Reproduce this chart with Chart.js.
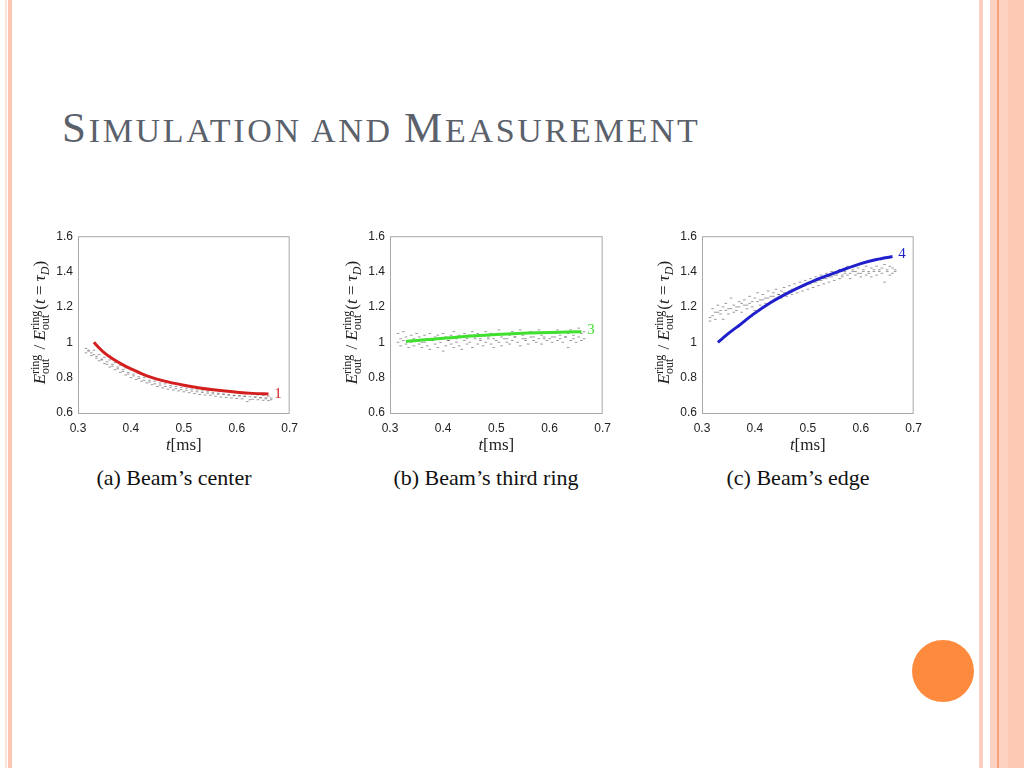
<!DOCTYPE html>
<html>
<head>
<meta charset="utf-8">
<script src="https://cdn.jsdelivr.net/npm/chart.js@4.4.1/dist/chart.umd.min.js"></script>
<style>
  html, body { margin: 0; padding: 0; background: #fff; }
  #slide { position: relative; width: 1024px; height: 768px; overflow: hidden; background: #fff; }
  .bar { position: absolute; top: 0; height: 768px; }
  #title { position: absolute; left: 62px; top: 104px; font-family: "Liberation Serif", serif;
           color: #5b616b; white-space: nowrap; line-height: 48px; letter-spacing: 2.7px; }
  #title .b { font-size: 43px; }
  #title .s { font-size: 34px; }
  .cap { position: absolute; top: 465px; width: 300px; text-align: center; font-family: "Liberation Serif", serif;
         font-size: 22px; color: #111; white-space: nowrap; }
  .box { position: absolute; top: 224px; height: 235px; }
  #dot { position: absolute; left: 912px; top: 640px; width: 62px; height: 62px; border-radius: 50%; background: #fe8a3e; }
</style>
</head>
<body>
<div id="slide">
  <div class="bar" style="left:5px;width:2px;background:#fbe3da"></div>
  <div class="bar" style="left:8px;width:4px;background:#fcc6b3"></div>
  <div class="bar" style="left:979px;width:4px;background:#fccfbe"></div>
  <div class="bar" style="left:990px;width:34px;background:#fdd2c1"></div>
  <div class="bar" style="left:997px;width:2px;background:#f8a27c"></div>
  <div class="bar" style="left:1008px;width:16px;background:#fdc9b4"></div>

  <div id="title"><span class="b">S</span><span class="s">IMULATION AND </span><span class="b">M</span><span class="s">EASUREMENT</span></div>

  <div class="box" style="left:30px;width:276px"><canvas id="chartA"></canvas></div>
  <div class="box" style="left:342px;width:277px"><canvas id="chartB"></canvas></div>
  <div class="box" style="left:654px;width:276px"><canvas id="chartC"></canvas></div>

  <div class="cap" style="left:24px">(a) Beam’s center</div>
  <div class="cap" style="left:336px">(b) Beam’s third ring</div>
  <div class="cap" style="left:648px">(c) Beam’s edge</div>

  <div id="dot"></div>
</div>

<script>
// eixos
const xTicks = [0.3, 0.4, 0.5, 0.6, 0.7];
const yTicks = [0.6, 0.8, 1, 1.2, 1.4, 1.6];

// tempos das medições (ms)
const measT = [
  0.315, 0.32, 0.325, 0.33, 0.335, 0.34, 0.345, 0.35, 0.355, 0.36,
  0.365, 0.37, 0.375, 0.38, 0.385, 0.39, 0.395, 0.40, 0.405, 0.41,
  0.415, 0.42, 0.425, 0.43, 0.435, 0.44, 0.445, 0.45, 0.455, 0.46,
  0.465, 0.47, 0.475, 0.48, 0.485, 0.49, 0.495, 0.50, 0.505, 0.51,
  0.515, 0.52, 0.525, 0.53, 0.535, 0.54, 0.545, 0.55, 0.555, 0.56,
  0.565, 0.57, 0.575, 0.58, 0.585, 0.59, 0.595, 0.60, 0.605, 0.61,
  0.615, 0.62, 0.625, 0.63, 0.635, 0.64, 0.645, 0.65, 0.655, 0.66,
  0.665
];

// (a) centro do feixe - medições
const centerMeas1 = [
  0.965, 0.95, 0.94, 0.955, 0.92, 0.93, 0.905, 0.915, 0.89, 0.90,
  0.875, 0.885, 0.86, 0.87, 0.845, 0.855, 0.83, 0.845, 0.82, 0.835,
  0.805, 0.82, 0.80, 0.81, 0.785, 0.80, 0.78, 0.79, 0.77, 0.785,
  0.765, 0.775, 0.755, 0.77, 0.75, 0.765, 0.745, 0.755, 0.74, 0.752,
  0.735, 0.748, 0.73, 0.742, 0.725, 0.738, 0.72, 0.735, 0.715, 0.73,
  0.712, 0.725, 0.708, 0.722, 0.705, 0.72, 0.70, 0.718, 0.698, 0.715,
  0.695, 0.71, 0.675, 0.705, 0.69, 0.702, 0.685, 0.70, 0.68, 0.695,
  0.675
];
const centerMeas2 = [
  0.94, 0.955, 0.925, 0.93, 0.91, 0.895, 0.90, 0.88, 0.875, 0.86,
  0.865, 0.845, 0.85, 0.83, 0.835, 0.815, 0.82, 0.80, 0.81, 0.79,
  0.795, 0.78, 0.785, 0.77, 0.775, 0.76, 0.765, 0.75, 0.758, 0.742,
  0.75, 0.735, 0.745, 0.73, 0.738, 0.725, 0.732, 0.72, 0.728, 0.715,
  0.724, 0.71, 0.72, 0.705, 0.716, 0.702, 0.712, 0.70, 0.708, 0.695,
  0.706, 0.69, 0.704, 0.688, 0.70, 0.685, 0.698, 0.682, 0.696, 0.68,
  0.694, 0.665, 0.692, 0.678, 0.69, 0.675, 0.688, 0.672, 0.686, 0.67,
  0.684
];

// (b) terceiro anel - medições
const ringMeas1 = [
  1.05, 1.02, 1.06, 1.03, 1.01, 1.04, 1.02, 1.05, 1.03, 1.00,
  1.04, 1.02, 1.05, 1.01, 1.03, 1.04, 1.02, 1.05, 1.03, 1.01,
  1.04, 1.06, 1.02, 1.04, 1.03, 1.05, 1.02, 1.04, 1.06, 1.03,
  1.05, 1.02, 1.04, 1.06, 1.03, 1.05, 1.02, 1.04, 1.07, 1.03,
  1.05, 1.02, 1.04, 1.06, 1.03, 1.05, 1.07, 1.04, 1.02, 1.05,
  1.06, 1.03, 1.05, 1.07, 1.04, 1.02, 1.05, 1.06, 1.03, 1.05,
  1.07, 1.04, 1.06, 1.03, 1.05, 1.07, 1.04, 1.06, 1.08, 1.05,
  1.06
];
const ringMeas2 = [
  1.00, 0.98, 1.01, 0.99, 0.97, 1.00, 0.98, 1.01, 0.99, 0.97,
  1.00, 0.98, 0.96, 1.01, 0.99, 0.97, 1.00, 0.95, 0.98, 1.01,
  0.99, 0.97, 1.00, 0.98, 0.96, 1.01, 0.99, 1.00, 0.97, 1.02,
  0.99, 1.01, 0.98, 1.00, 1.02, 0.99, 0.97, 1.01, 1.00, 0.98,
  1.02, 1.00, 0.99, 1.01, 1.03, 1.00, 0.98, 1.02, 1.01, 0.99,
  1.03, 1.01, 1.00, 1.02, 0.99, 1.03, 1.01, 1.02, 1.00, 1.03,
  1.01, 1.02, 1.00, 1.03, 0.97, 1.01, 1.02, 1.00, 1.03, 1.01,
  1.02
];

// (c) borda do feixe - medições
const edgeMeas1 = [
  1.14, 1.19, 1.17, 1.21, 1.18, 1.20, 1.22, 1.19, 1.25, 1.21,
  1.20, 1.23, 1.22, 1.24, 1.21, 1.26, 1.23, 1.25, 1.28, 1.24,
  1.27, 1.25, 1.29, 1.26, 1.28, 1.30, 1.27, 1.29, 1.31, 1.28,
  1.32, 1.30, 1.33, 1.31, 1.34, 1.32, 1.35, 1.33, 1.36, 1.34,
  1.37, 1.35, 1.38, 1.36, 1.39, 1.37, 1.40, 1.38, 1.39, 1.41,
  1.38, 1.40, 1.43, 1.39, 1.41, 1.40, 1.42, 1.39, 1.41, 1.43,
  1.40, 1.42, 1.41, 1.43, 1.40, 1.42, 1.44, 1.41, 1.43, 1.42,
  1.41
];
const edgeMeas2 = [
  1.12, 1.15, 1.13, 1.17, 1.16, 1.13, 1.18, 1.16, 1.19, 1.17,
  1.18, 1.20, 1.17, 1.21, 1.19, 1.22, 1.20, 1.18, 1.23, 1.21,
  1.24, 1.22, 1.25, 1.23, 1.26, 1.24, 1.27, 1.25, 1.28, 1.26,
  1.29, 1.27, 1.30, 1.28, 1.31, 1.29, 1.32, 1.30, 1.33, 1.31,
  1.34, 1.32, 1.35, 1.33, 1.36, 1.34, 1.37, 1.35, 1.38, 1.36,
  1.37, 1.39, 1.38, 1.36, 1.40, 1.38, 1.39, 1.37, 1.40, 1.38,
  1.39, 1.37, 1.40, 1.38, 1.41, 1.39, 1.34, 1.40, 1.38, 1.39,
  1.40
];

// simulações
const simT = [0.33, 0.34, 0.35, 0.36, 0.37, 0.385, 0.40, 0.43, 0.46, 0.50, 0.53, 0.56, 0.60, 0.63, 0.66];
const centerSim = [1.0, 0.968, 0.94, 0.918, 0.898, 0.872, 0.85, 0.81, 0.783, 0.757, 0.742, 0.73, 0.718, 0.711, 0.707];
const ringSim = [1.005, 1.008, 1.01, 1.013, 1.015, 1.019, 1.023, 1.030, 1.037, 1.044, 1.048, 1.052, 1.056, 1.058, 1.06];
const edgeSim = [1.0, 1.025, 1.05, 1.073, 1.095, 1.131, 1.165, 1.225, 1.275, 1.333, 1.370, 1.403, 1.445, 1.468, 1.485];

const SERIF = '"Liberation Serif", "DejaVu Serif", serif';

function pares(xs, ys) {
    return xs.map((x, i) => ({ x: x, y: ys[i] }));
}

// desenha um pedaço de texto e devolve a largura
function pedaco(ctx, txt, font, x, y) {
    ctx.font = font;
    ctx.fillText(txt, x, y);
    return ctx.measureText(txt).width;
}

// plugin: moldura, rótulos dos eixos e número da curva
const extras = {
    id: 'extras',
    afterDraw(chart, args, opts) {
        const ctx = chart.ctx;
        const a = chart.chartArea;
        ctx.save();
        ctx.strokeStyle = '#a8a8a8';
        ctx.lineWidth = 1;
        ctx.strokeRect(a.left + 0.5, a.top + 0.5, a.right - a.left - 1, a.bottom - a.top);

        ctx.fillStyle = '#222';
        ctx.textBaseline = 'alphabetic';
        ctx.textAlign = 'left';

        // rótulo do eixo x: t[ms]
        ctx.font = 'italic 17px ' + SERIF;
        const wt = ctx.measureText('t').width;
        ctx.font = '17px ' + SERIF;
        const wm = ctx.measureText('[ms]').width;
        let x0 = (a.left + a.right) / 2 - (wt + wm) / 2;
        x0 += pedaco(ctx, 't', 'italic 17px ' + SERIF, x0, a.bottom + 37);
        pedaco(ctx, '[ms]', '17px ' + SERIF, x0, a.bottom + 37);

        // rótulo do eixo y (girado)
        const big = '17px ' + SERIF, bigI = 'italic 17px ' + SERIF;
        const sm = '12px ' + SERIF, smI = 'italic 12px ' + SERIF;
        const partes = [
            { t: 'E', f: bigI }, { sup: 'ring', sub: 'out' }, { t: ' / ', f: big },
            { t: 'E', f: bigI }, { sup: 'ring', sub: 'out' }, { t: '(', f: big },
            { t: 't', f: bigI }, { t: ' = ', f: big }, { t: 'τ', f: bigI },
            { s: 'D', f: smI }, { t: ')', f: big }
        ];
        let total = 0;
        partes.forEach(p => {
            if (p.sup) {
                ctx.font = sm;
                p.w = Math.max(ctx.measureText(p.sup).width, ctx.measureText(p.sub).width) + 1;
            } else {
                ctx.font = p.f;
                p.w = ctx.measureText(p.t || p.s).width;
            }
            total += p.w;
        });
        ctx.translate(a.left - 38, (a.top + a.bottom) / 2 - 2);
        ctx.rotate(-Math.PI / 2);
        let px = -total / 2;
        partes.forEach(p => {
            if (p.sup) {
                pedaco(ctx, p.sup, sm, px, -1);
                pedaco(ctx, p.sub, sm, px, 9);
            } else if (p.s) {
                pedaco(ctx, p.s, p.f, px, 9);
            } else {
                pedaco(ctx, p.t, p.f, px, 5);
            }
            px += p.w;
        });
        ctx.restore();

        // número da curva
        ctx.save();
        ctx.fillStyle = opts.cor;
        ctx.font = '15px ' + SERIF;
        ctx.textAlign = 'center';
        ctx.textBaseline = 'middle';
        ctx.fillText(opts.num,
            chart.scales.x.getPixelForValue(opts.nx),
            chart.scales.y.getPixelForValue(opts.ny));
        ctx.restore();
    }
};

function criarGrafico(id, meas1, meas2, sim, cor, num, dy) {
    const pontos = {
        type: 'scatter',
        pointStyle: 'line',
        pointRadius: 1.3,
        pointBorderWidth: 1,
        borderColor: 'rgba(70,70,70,0.55)',
        backgroundColor: 'rgba(70,70,70,0.55)'
    };
    return new Chart(document.getElementById(id), {
        type: 'line',
        data: {
            datasets: [
                {
                    data: pares(simT, sim),
                    borderColor: cor,
                    borderWidth: 3,
                    pointRadius: 0,
                    cubicInterpolationMode: 'monotone',
                    fill: false
                },
                Object.assign({ data: pares(measT, meas1), showLine: false }, pontos),
                Object.assign({ data: pares(measT, meas2), showLine: false }, pontos)
            ]
        },
        options: {
            responsive: true,
            maintainAspectRatio: false,
            animation: false,
            layout: { autoPadding: false, padding: { top: 10, right: 9, left: 0, bottom: 0 } },
            plugins: {
                legend: { display: false },
                tooltip: { enabled: false },
                extras: { cor: cor, num: num, nx: 0.678, ny: sim[sim.length - 1] + dy }
            },
            scales: {
                x: {
                    type: 'linear', min: 0.3, max: 0.7,
                    grid: { display: false, drawTicks: false }, border: { display: false },
                    afterBuildTicks: s => { s.ticks = xTicks.map(v => ({ value: v })); },
                    afterFit: s => { s.height = 46; },
                    ticks: { padding: 8, color: '#222', font: { family: 'Liberation Sans', size: 12 }, callback: v => String(v) }
                },
                y: {
                    type: 'linear', min: 0.6, max: 1.6,
                    grid: { display: false, drawTicks: false }, border: { display: false },
                    afterBuildTicks: s => { s.ticks = yTicks.map(v => ({ value: v })); },
                    afterFit: s => { s.width = 48; },
                    ticks: { padding: 5, color: '#222', font: { family: 'Liberation Sans', size: 12 }, callback: v => String(v) }
                }
            }
        },
        plugins: [extras]
    });
}

criarGrafico('chartA', centerMeas1, centerMeas2, centerSim, '#d41f1f', '1', 0);
criarGrafico('chartB', ringMeas1, ringMeas2, ringSim, '#3fe02e', '3', 0.01);
criarGrafico('chartC', edgeMeas1, edgeMeas2, edgeSim, '#1f1fcc', '4', 0.015);
</script>
</body>
</html>
